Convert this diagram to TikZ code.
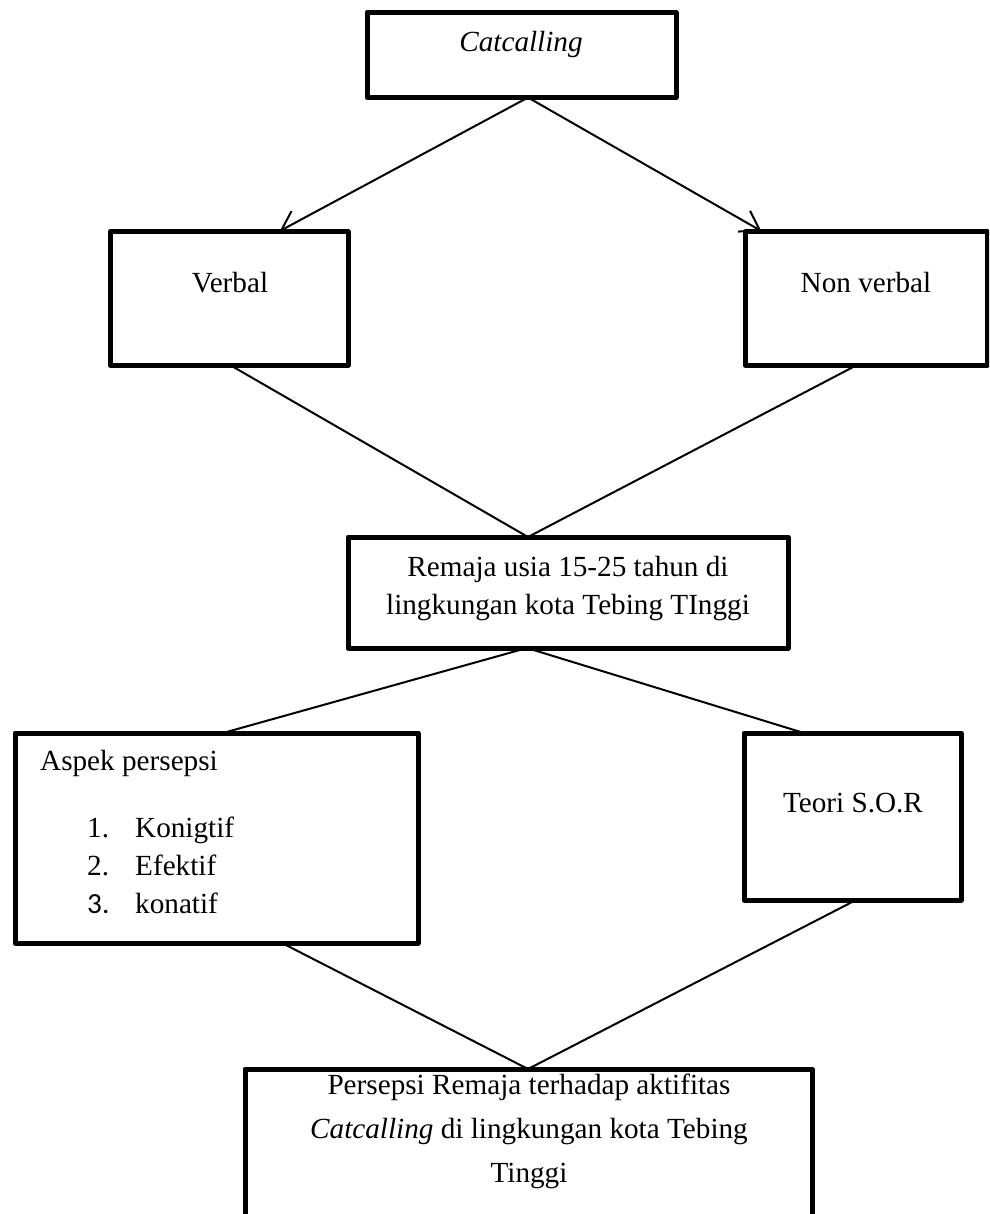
\documentclass[tikz,border=0pt]{standalone}
\usepackage{fontspec}
\setmainfont{Liberation Serif}
\newfontfamily\calibfont{Carlito}
\usetikzlibrary{arrows.meta}
\begin{document}
\begin{tikzpicture}[x=1pt,y=-1pt,
  box/.style={draw, line width=5pt, rectangle, inner sep=0pt, outer sep=0pt, anchor=north west, line join=round},
  lbl/.style={anchor=base, inner sep=0pt, font=\fontsize{29.2pt}{38pt}\selectfont},
  lblw/.style={lbl, anchor=base west},
  conn/.style={line width=2pt, line cap=round},
  arr/.style={conn, shorten >=2pt, -{Straight Barb[length=18pt,width=24pt]}}]

\clip (0,0) rectangle (989,1214);
\fill[white] (0,0) rectangle (989,1214);

% boxes
\node[box, minimum width=309pt, minimum height=85pt]  (cat) at (367,12.5) {};
\node[box, minimum width=238pt, minimum height=133pt] (verbal) at (110,232) {};
\node[box, minimum width=242pt, minimum height=133pt] (nonverbal) at (745,232) {};
\node[box, minimum width=440pt, minimum height=111pt] (remaja) at (348,537) {};
\node[box, minimum width=403pt, minimum height=210pt] (aspek) at (15,733) {};
\node[box, minimum width=217pt, minimum height=167pt] (teori) at (744,733) {};
\node[box, minimum width=567pt, minimum height=220pt] (hasil) at (245,1069) {};

% texts
\node[lbl] (tcat) at (521,52) {\itshape Catcalling};
\node[lbl] (tverbal) at (230,293) {Verbal};
\node[lbl] (tnonverbal) at (866,293) {Non verbal};
\node[lbl] (trem1) at (568,576) {Remaja usia 15-25 tahun di};
\node[lbl] (trem2) at (568,614) {lingkungan kota Tebing TInggi};
\node[lblw] (tasp) at (40,770) {Aspek persepsi};
\node[lblw] (n1) at (87,837) {1.};
\node[lblw] (k1) at (135,837) {Konigtif};
\node[lblw] (n2) at (87,875) {2.};
\node[lblw] (k2) at (135,875) {Efektif};
\node[lblw] (n3) at (87,913) {\calibfont 3.};
\node[lblw] (k3) at (135,913) {konatif};
\node[lbl] (tteori) at (853,812) {Teori S.O.R};
\node[lbl] (th1) at (529,1094) {Persepsi Remaja terhadap aktifitas};
\node[lbl] (th2) at (529,1138) {{\itshape Catcalling} di lingkungan kota Tebing};
\node[lbl] (th3) at (529,1182) {Tinggi};

% connectors
\draw[arr] ([xshift=161pt]cat.south west) -- ([xshift=168pt]verbal.north west);
\draw[arr] ([xshift=161pt]cat.south west) -- ([xshift=18pt]nonverbal.north west);
\draw[conn] ([xshift=120pt]verbal.south west) -- ([xshift=180pt]remaja.north west);
\draw[conn] ([xshift=112pt]nonverbal.south west) -- ([xshift=180pt]remaja.north west);
\draw[conn] ([xshift=179pt]remaja.south west) -- ([xshift=208pt]aspek.north west);
\draw[conn] ([xshift=179pt]remaja.south west) -- ([xshift=60pt]teori.north west);
\draw[conn] ([xshift=267pt]aspek.south west) -- ([xshift=283pt]hasil.north west);
\draw[conn] ([xshift=112pt]teori.south west) -- ([xshift=283pt]hasil.north west);
\end{tikzpicture}
\end{document}
